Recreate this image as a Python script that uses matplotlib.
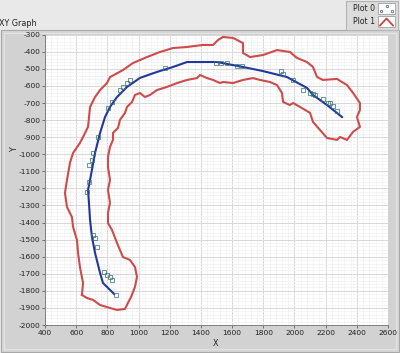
import matplotlib
matplotlib.use("Agg")
import matplotlib.pyplot as plt
from matplotlib.patches import Rectangle
from matplotlib.lines import Line2D
from matplotlib.ticker import MultipleLocator

# ---- data ----
blue_x = [843, 772, 753, 721, 701, 689, 682, 676, 689, 701, 721, 753, 785, 817, 862, 926,
          1009, 1118, 1221, 1311, 1394, 1503, 1670, 1798, 1952, 2081, 2119, 2209, 2305]
blue_y = [-1818, -1754, -1695, -1578, -1484, -1385, -1285, -1209, -1150, -1092, -992, -876,
          -782, -723, -665, -606, -553, -518, -489, -460, -460, -460, -489, -513, -548, -612,
          -653, -712, -782]

pts_x = [855, 830, 817, 798, 778, 734, 721, 708, 669, 682, 682, 701, 708, 740, 804, 830,
         881, 900, 926, 945, 1170, 1497, 1529, 1567, 1631, 1664, 1914, 1927, 1991, 2055,
         2100, 2119, 2132, 2183, 2215, 2228, 2247, 2273]
pts_y = [-1824, -1736, -1718, -1707, -1689, -1543, -1490, -1472, -1221, -1162, -1063, -1034,
         -993, -899, -729, -694, -624, -606, -583, -566, -495, -466, -466, -466, -483, -483,
         -513, -530, -565, -624, -641, -647, -653, -676, -700, -700, -717, -747]

red_x = [637, 644, 624, 612, 605, 580, 573, 541, 528, 541, 560, 580, 624, 644, 676, 689, 721,
         753, 798, 817, 900, 964, 1054, 1138, 1221, 1311, 1413, 1478, 1510, 1542, 1606, 1670,
         1670, 1715, 1798, 1888, 1971, 2016, 2080, 2119, 2145, 2183, 2273, 2337, 2376, 2420,
         2420, 2401, 2420, 2376, 2337, 2292, 2273, 2209, 2164, 2119, 2100, 2036, 1991, 1971,
         1927, 1920, 1888, 1843, 1779, 1734, 1670, 1606, 1542, 1522, 1478, 1439, 1394, 1375,
         1311, 1247, 1182, 1118, 1073, 1041, 1009, 977, 958, 926, 913, 881, 868, 836, 836,
         817, 804, 804, 817, 804, 817, 804, 804, 830, 862, 881, 900, 945, 977, 990, 977, 952,
         932, 913, 862, 798, 753, 708, 669, 637]
red_y = [-1824, -1754, -1660, -1578, -1502, -1426, -1368, -1309, -1227, -1151, -1051, -993,
         -934, -899, -840, -723, -665, -624, -583, -548, -507, -466, -431, -401, -378, -372,
         -360, -360, -331, -313, -319, -349, -407, -431, -419, -390, -401, -436, -460, -489,
         -548, -565, -559, -595, -641, -700, -741, -782, -840, -869, -916, -899, -916, -905,
         -858, -811, -758, -723, -700, -712, -694, -641, -595, -577, -565, -554, -565, -583,
         -577, -583, -565, -554, -536, -554, -565, -583, -606, -624, -653, -665, -641, -653,
         -694, -723, -758, -799, -846, -875, -916, -957, -1016, -1075, -1151, -1209, -1285,
         -1344, -1403, -1444, -1520, -1561, -1602, -1619, -1660, -1718, -1777, -1836, -1871,
         -1906, -1912, -1895, -1883, -1853, -1842, -1824]

x_ticks = list(range(400, 2601, 200))
y_ticks = list(range(-2000, -299, 100))

# ---- figure ----
W, H = 400, 353
fig = plt.figure(figsize=(W / 100, H / 100), dpi=100)
fig.patch.set_facecolor('#e9e9e9')

def px_rect(x0, y0, x1, y1, **kw):
    r = Rectangle((x0 / W, 1 - y1 / H), (x1 - x0) / W, (y1 - y0) / H,
                  transform=fig.transFigure, zorder=-5, **kw)
    fig.patches.append(r)
    return r

# graph panel
px_rect(1, 30, 399, 352, facecolor='#d6d6d6', edgecolor='#a8a8a8', linewidth=0.8)
px_rect(4, 33, 396, 349, facecolor='#d2d2d2', edgecolor='#e4e4e4', linewidth=0.8)

# legend box
px_rect(346, 1, 398, 30, facecolor='#dcdcdc', edgecolor='#b4b4b4', linewidth=0.8)
px_rect(378, 3, 395, 14, facecolor='white', edgecolor='#a0a0a0', linewidth=0.6)
px_rect(378, 16, 395, 27, facecolor='white', edgecolor='#a0a0a0', linewidth=0.6)
fs = 5.6
fig.text(375 / W, 1 - 8.5 / H, 'Plot 0', ha='right', va='center', fontsize=fs,
         family='DejaVu Sans', color='#202020')
fig.text(375 / W, 1 - 21.5 / H, 'Plot 1', ha='right', va='center', fontsize=fs,
         family='DejaVu Sans', color='#202020')
for (sx, sy) in [(386.5, 6), (381, 11), (391.5, 11)]:
    fig.add_artist(Line2D([sx / W], [1 - sy / H], marker='s', markersize=1.6,
                          markerfacecolor='none', markeredgecolor='#3a6a6a',
                          markeredgewidth=0.5, transform=fig.transFigure))
fig.add_artist(Line2D([380 / W, 386.5 / W, 393 / W], [1 - 25.5 / H, 1 - 18.5 / H, 1 - 25.5 / H],
                      color='#cc4444', linewidth=1.3, transform=fig.transFigure))

fig.text(-1 / W, 1 - 23 / H, 'XY Graph', ha='left', va='center', fontsize=5.8,
         family='DejaVu Sans', color='#202020')

# ---- axes ----
ax = fig.add_axes([45 / W, 1 - 325 / H, (388 - 45) / W, (325 - 34.7) / H])
ax.set_facecolor('white')
ax.set_xlim(400, 2600)
ax.set_ylim(-2000, -300)
ax.set_xticks(x_ticks)
ax.set_yticks(y_ticks)
ax.set_xticklabels([str(v) for v in x_ticks])
ax.set_yticklabels([str(v) for v in y_ticks])
ax.xaxis.set_minor_locator(MultipleLocator(40))
ax.yaxis.set_minor_locator(MultipleLocator(20))
ax.grid(which='major', color='#d8d8d8', linewidth=0.7)
ax.grid(which='minor', color='#f1f1f1', linewidth=0.5)
ax.set_axisbelow(True)
ax.tick_params(which='major', length=2.5, width=0.6, color='#606060', labelsize=5.4,
               labelcolor='#202020', pad=1)
ax.tick_params(which='minor', length=0)
for lab in ax.get_xticklabels() + ax.get_yticklabels():
    lab.set_family('DejaVu Sans')
for s in ['top', 'right']:
    ax.spines[s].set_visible(False)
for s in ['left', 'bottom']:
    ax.spines[s].set_color('#808080')
    ax.spines[s].set_linewidth(0.7)

ax.plot(red_x, red_y, color='#cf4a4a', linewidth=1.5, solid_joinstyle='round', zorder=3)
ax.plot(blue_x, blue_y, color='#2336a0', linewidth=1.5, solid_joinstyle='round', zorder=4)
ax.plot(pts_x, pts_y, linestyle='none', marker='s', markersize=2.3, markerfacecolor='none',
        markeredgecolor='#2f6f70', markeredgewidth=0.5, zorder=5)

ax.set_xlabel('X', fontsize=5.8, family='DejaVu Sans', color='#202020')
ax.set_ylabel('Y', fontsize=5.8, family='DejaVu Sans', color='#202020')
ax.xaxis.set_label_coords((216 - 45) / 343, -(343 - 325) / 290.3)
ax.yaxis.set_label_coords(-(45 - 15) / 343, (325 - 150) / 290.3)
ax.xaxis.label.set_va('center')
ax.yaxis.label.set_va('center')

fig.savefig('out.png', dpi=100, facecolor=fig.get_facecolor())
